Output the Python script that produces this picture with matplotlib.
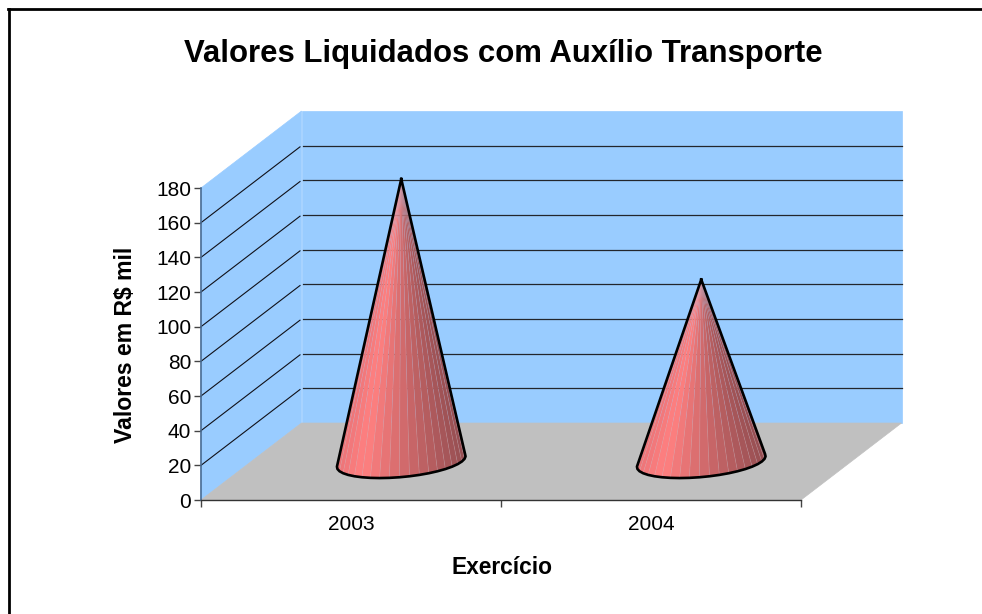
import numpy as np
import matplotlib
matplotlib.use("Agg")
import matplotlib.pyplot as plt
from matplotlib.lines import Line2D
from matplotlib.patches import Polygon
from matplotlib.collections import PolyCollection

plt.rcParams['font.family'] = ['Liberation Sans', 'DejaVu Sans']

years = ['2003', '2004']
values = [163, 105]
y_ticks = list(range(0, 181, 20))
title = 'Valores Liquidados com Auxílio Transporte'
x_title = 'Exercício'
y_title = 'Valores em R$ mil'

W, H = 982, 614
# depth of the fake 3d box, in data units
depth_x = 0.335
depth_y = 44.4
# cone base radius (category units / fraction of depth)
rad_x = 0.202
rad_d = 0.215
segs = 40

fig = plt.figure(figsize=(W / 100, H / 100), dpi=100)
ax = fig.add_axes([201 / W, 1 - 500 / H, 600 / W, 312 / H])
ax.patch.set_alpha(0)
ax.set_xlim(0, len(years))
ax.set_ylim(0, 180)

# frame of the chart, right and bottom sides are cut off
fig.add_artist(Line2D([8.5 / W, 8.5 / W], [0, 1 - 8.5 / H], color='black', lw=2.0))
fig.add_artist(Line2D([7.5 / W, 1], [1 - 8.5 / H, 1 - 8.5 / H], color='black', lw=2.0))

n = len(years)
top = y_ticks[-1]

# walls and floor
ax.add_patch(Polygon([(depth_x, depth_y), (n + depth_x, depth_y), (n + depth_x, top + depth_y), (depth_x, top + depth_y)],
                     fc='#99CCFF', ec='#99CCFF', lw=0.5, clip_on=False, zorder=1))
ax.add_patch(Polygon([(0, 0), (depth_x, depth_y), (depth_x, top + depth_y), (0, top)],
                     fc='#99CCFF', ec='#99CCFF', lw=0.5, clip_on=False, zorder=1))
ax.add_patch(Polygon([(0, 0), (n, 0), (n + depth_x, depth_y), (depth_x, depth_y)],
                     fc='#C0C0C0', ec='#C0C0C0', lw=0.5, clip_on=False, zorder=1))

# gridlines, side wall and back wall
for v in y_ticks[1:-1]:
    ax.plot([0, depth_x * 0.985], [v, v + depth_y * 0.985], color='#101018', lw=0.8, clip_on=False, zorder=2)
    ax.plot([depth_x + 0.005, n + depth_x], [v + depth_y, v + depth_y], color='#22262c', lw=0.9, clip_on=False, zorder=2)


def shade(f):
    # f is 0 on the left of the cone, 1 on the right
    stops = [0, 0.2, 0.55, 1]
    r = np.interp(f, stops, [236, 255, 205, 150])
    g = np.interp(f, stops, [116, 128, 104, 78])
    b = np.interp(f, stops, [120, 128, 106, 82])
    return (r / 255, g / 255, b / 255)


for i, val in enumerate(values):
    cx = i + 0.5 + depth_x / 2
    cy = depth_y / 2
    tip = np.array([cx, cy + val])
    t = np.linspace(0, 2 * np.pi, segs + 1)
    px = cx + rad_x * np.cos(t) + rad_d * depth_x * np.sin(t)
    py = cy + rad_d * depth_y * np.sin(t)
    pts = np.column_stack([px, py])

    # silhouette: tangent points seen from the tip, then the front of the base
    sx = (px - tip[0]) * 300
    sy = (tip[1] - py) * 34.67 / 20
    ang = np.arctan2(sx, sy)
    left = np.argmin(ang[:-1])
    right = np.argmax(ang[:-1])
    idx = [left]
    k = left
    while k != right:
        k = (k + 1) % segs
        idx.append(k)
    arc = pts[idx]

    facets = []
    cols = []
    for a, b in zip(idx[:-1], idx[1:]):
        facets.append([tip, pts[a], pts[b]])
        f = (0.5 * (px[a] + px[b]) - arc[:, 0].min()) / (arc[:, 0].max() - arc[:, 0].min())
        cols.append(shade(f))
    ax.add_collection(PolyCollection(facets, facecolors=cols, edgecolors=(0.85, 0.72, 0.78, 0.22),
                                     linewidths=0.5, clip_on=False, zorder=3))
    outline = np.vstack([tip, arc, tip])
    ax.plot(outline[:, 0], outline[:, 1], color='black', lw=1.9, solid_joinstyle='round',
            clip_on=False, zorder=4)

# axes
for s in ['top', 'right']:
    ax.spines[s].set_visible(False)
ax.spines['left'].set_color('#4a6c92')
ax.spines['left'].set_linewidth(1.2)
ax.spines['left'].set_zorder(5)
ax.spines['bottom'].set_color('#333333')
ax.spines['bottom'].set_linewidth(1.0)
ax.spines['bottom'].set_zorder(5)
ax.set_yticks(y_ticks)
ax.set_xticks(range(n + 1))
ax.set_xticklabels([])
ax.set_xticks([i + 0.5 for i in range(n)], minor=True)
ax.set_xticklabels(years, minor=True)
ax.tick_params(axis='x', which='major', length=5, width=1, color='#444444')
ax.tick_params(axis='x', which='minor', length=0, labelsize=15, pad=11)
ax.tick_params(axis='y', length=5, width=1, color='#444444', labelsize=15, pad=2)

fig.text(503 / W, 1 - 54 / H, title, fontsize=22.4, fontweight='bold', ha='center', va='center')
fig.text(502 / W, 1 - 567 / H, x_title, fontsize=16.4, fontweight='bold', ha='center', va='center')
fig.text(125 / W, 1 - 345 / H, y_title, fontsize=16.6, fontweight='bold', ha='center', va='center', rotation=90)

fig.savefig('out.png', dpi=100)
